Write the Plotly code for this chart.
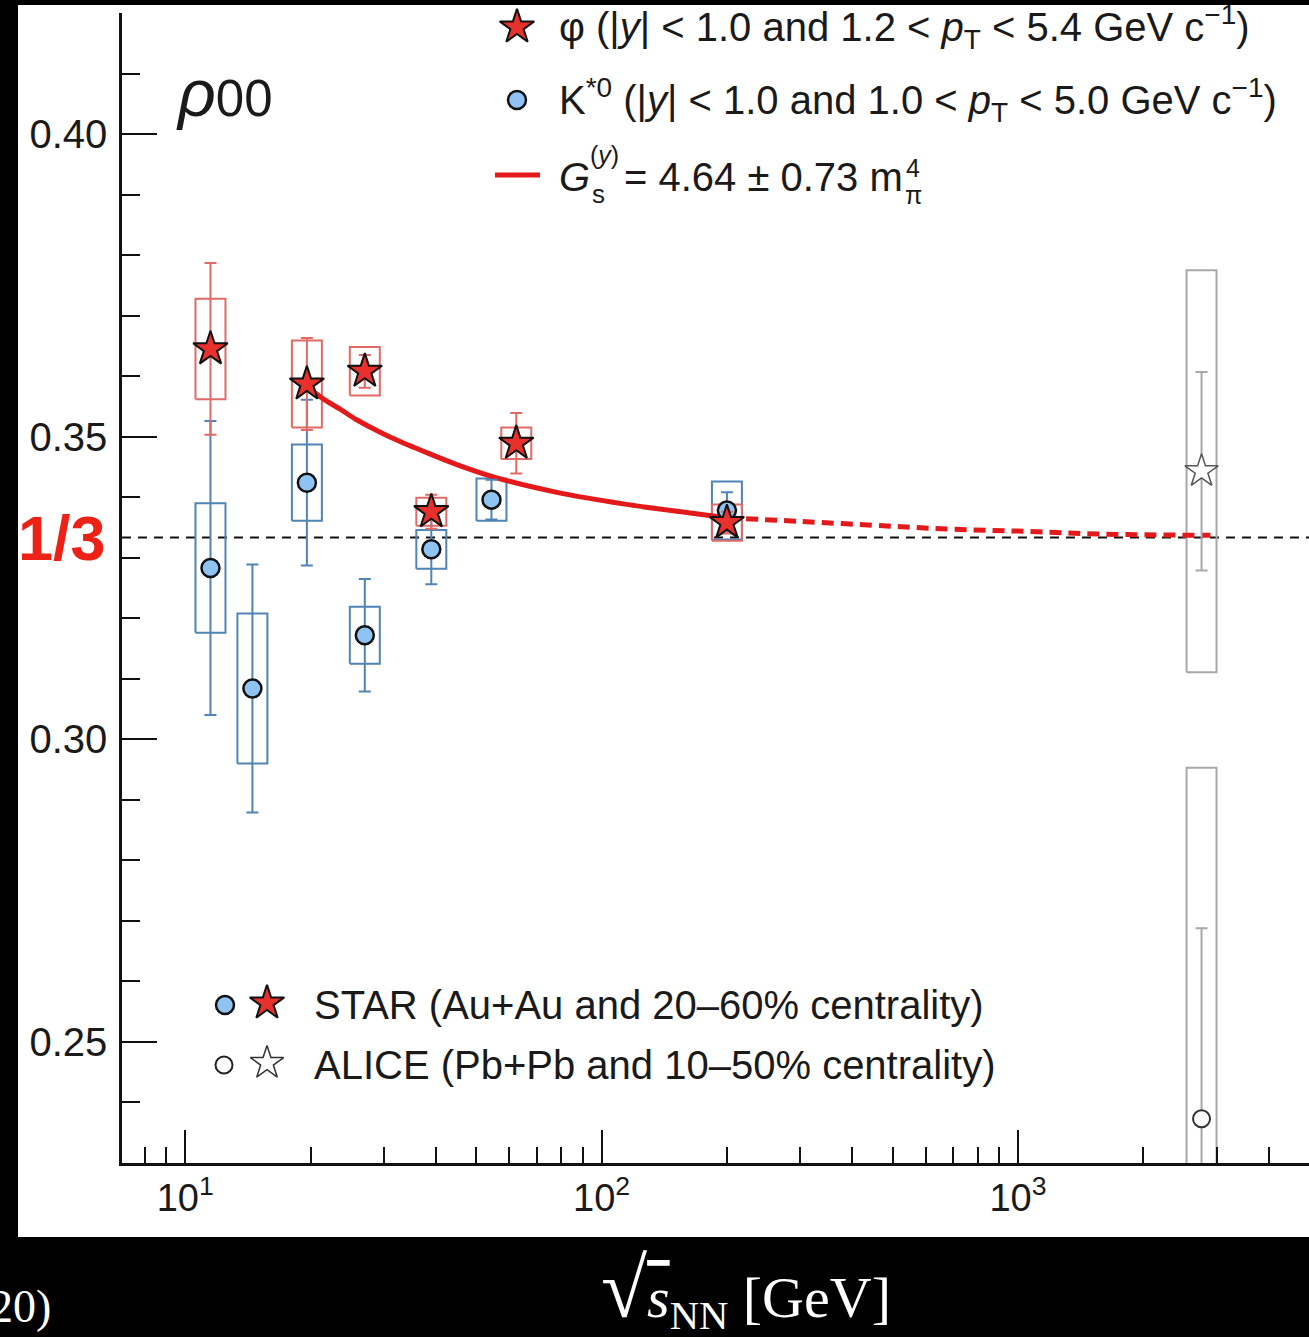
import plotly.graph_objects as go

# ---------------- data ----------------
# STAR phi mesons
PHI_E = [11.5, 19.6, 27.0, 39.0, 62.4, 200.0]
PHI_RHO = [0.3645, 0.3587, 0.3608, 0.3376, 0.3489, 0.3358]
PHI_STAT = [0.0142, 0.0076, 0.0027, 0.0028, 0.0050, 0.0018]
PHI_SYS = [0.0083, 0.0072, 0.0040, 0.0023, 0.0026, 0.0030]

# STAR K*0 mesons
K_E = [11.5, 14.5, 19.6, 27.0, 39.0, 54.4, 200.0]
K_RHO = [0.3283, 0.3084, 0.3424, 0.3172, 0.3314, 0.3396, 0.3378]
K_STAT = [0.0243, 0.0205, 0.0137, 0.0093, 0.0058, 0.0033, 0.0030]
K_SYS = [0.0107, 0.0124, 0.0063, 0.0047, 0.0032, 0.0035, 0.0048]

# ALICE (Pb+Pb 2.76 TeV)
ALICE_E = [2760.0]
ALICE_PHI_RHO = [0.3443]
ALICE_PHI_STAT = [0.0164]
ALICE_PHI_SYS = [0.0332]
ALICE_K_RHO = [0.2373]
ALICE_K_STAT = [0.0315]
ALICE_K_SYS = [0.058]

# phi-field model curve (solid part) and its extrapolation (dotted part)
FIT_E = [19.6, 21.5, 23.6, 25.8, 28.3, 31.1, 37.3, 44.9, 56.0, 78.1, 112.8, 163.1, 200.0]
FIT_RHO = [0.3583, 0.3562, 0.3545, 0.3528, 0.3513, 0.3499, 0.3476, 0.3454, 0.3432,
           0.3408, 0.3389, 0.3374, 0.3366]
FIT_EXT_E = [200.0, 300.0, 500.0, 700.0, 1000.0, 1600.0, 2900.0]
FIT_EXT_RHO = [0.3366, 0.3360, 0.3352, 0.3347, 0.3344, 0.3339, 0.3337]

RHO_ISO = 1.0 / 3.0

X_TICKS = [10, 100, 1000]
X_TICK_TEXT = ["10<sup>1</sup>", "10<sup>2</sup>", "10<sup>3</sup>"]
X_MINOR = [8, 9, 20, 30, 40, 50, 60, 70, 80, 90, 200, 300, 400, 500, 600, 700, 800, 900,
           2000, 3000, 4000]
Y_TICKS = [0.25, 0.30, 0.35, 0.40]
Y_TICK_TEXT = ["0.25", "0.30", "0.35", "0.40"]

# ---------------- styles ----------------
W, H = 1309, 1337
L, R, T, B = 122, 1309, 13, 1163          # plot-area edges in pixels
FONT = "Liberation Sans, Arial, Helvetica, sans-serif"
SERIF = "Liberation Serif, Times New Roman, serif"
TXT = "#1a1a1a"
RED_FILL = "#e8302c"
RED_LINE = "#e06a66"
FIT_RED = "#e3191b"
K_FILL = "#8fc3f1"
K_LINE = "#4f84b4"
GRAY = "#a8a8a8"
BOX_HALF_DEX = 0.036


def px_x(px):
    return (px - L) / (R - L)


def px_y(py):
    return (B - py) / (B - T)


def box_path(E, rho, sys):
    xs, ys = [], []
    for e, r, s in zip(E, rho, sys):
        x0, x1 = e * 10 ** -BOX_HALF_DEX, e * 10 ** BOX_HALF_DEX
        xs += [x0, x1, x1, x0, x0, None]
        ys += [r - s, r - s, r + s, r + s, r - s, None]
    return xs, ys


fig = go.Figure()

# systematic boxes
for E, rho, sys, col, w in [
    (K_E, K_RHO, K_SYS, K_LINE, 2),
    (PHI_E, PHI_RHO, PHI_SYS, RED_LINE, 2),
    (ALICE_E, ALICE_PHI_RHO, ALICE_PHI_SYS, GRAY, 2),
    (ALICE_E, ALICE_K_RHO, ALICE_K_SYS, GRAY, 2),
]:
    bx, by = box_path(E, rho, sys)
    fig.add_trace(go.Scatter(x=bx, y=by, mode="lines", line=dict(color=col, width=w),
                             hoverinfo="skip", showlegend=False))

# model curve
fig.add_trace(go.Scatter(x=FIT_E, y=FIT_RHO, mode="lines", line_shape="spline",
                         line=dict(color=FIT_RED, width=5), showlegend=False))
fig.add_trace(go.Scatter(x=FIT_EXT_E, y=FIT_EXT_RHO, mode="lines", line_shape="spline",
                         line=dict(color=FIT_RED, width=5, dash="12px,7px"), showlegend=False))

# K*0 points
fig.add_trace(go.Scatter(
    x=K_E, y=K_RHO, mode="markers",
    error_y=dict(type="data", array=K_STAT, color=K_LINE, thickness=2, width=6),
    marker=dict(symbol="circle", size=18, color=K_FILL, line=dict(color="#111", width=2.5)),
    showlegend=False))
# ALICE points
fig.add_trace(go.Scatter(
    x=ALICE_E, y=ALICE_K_RHO, mode="markers",
    error_y=dict(type="data", array=ALICE_K_STAT, color=GRAY, thickness=2, width=6),
    marker=dict(symbol="circle", size=17, color="white", line=dict(color="#333", width=2)),
    showlegend=False))
fig.add_trace(go.Scatter(
    x=ALICE_E, y=ALICE_PHI_RHO, mode="markers",
    error_y=dict(type="data", array=ALICE_PHI_STAT, color=GRAY, thickness=2, width=6),
    marker=dict(symbol="star", size=25, color="white", line=dict(color="#555", width=1.5)),
    showlegend=False))
# phi points
fig.add_trace(go.Scatter(
    x=PHI_E, y=PHI_RHO, mode="markers",
    error_y=dict(type="data", array=PHI_STAT, color=RED_LINE, thickness=2, width=6),
    marker=dict(symbol="star", size=26, color=RED_FILL, line=dict(color="#111", width=2)),
    showlegend=False))

# ---------------- legend keys (layout positions in plot pixels) ----------------
KEY_MARKERS = [
    # x, y, symbol, size, fill, line colour, line width
    (517, 27, "star", 26, RED_FILL, "#111", 2),
    (517, 100, "circle", 18, K_FILL, "#111", 2.5),
    (225, 1005, "circle", 18, K_FILL, "#111", 2.5),
    (267, 1003, "star", 26, RED_FILL, "#111", 2),
    (224, 1065, "circle", 17, "white", "#222", 2),
    (267, 1063, "star", 25, "white", "#333", 1.5),
]
for kx, ky, sym, sz, fc, lc, lw in KEY_MARKERS:
    fig.add_trace(go.Scatter(x=[kx], y=[ky], xaxis="x2", yaxis="y2", mode="markers",
                             marker=dict(symbol=sym, size=sz, color=fc, line=dict(color=lc, width=lw)),
                             showlegend=False, hoverinfo="skip", cliponaxis=False))
fig.add_trace(go.Scatter(x=[495, 540], y=[175, 175], xaxis="x2", yaxis="y2", mode="lines",
                         line=dict(color=FIT_RED, width=5), showlegend=False, hoverinfo="skip"))

# ---------------- shapes ----------------
shapes = [
    dict(type="rect", xref="paper", yref="paper", x0=px_x(18), x1=px_x(1320),
         y0=px_y(1237), y1=px_y(5), fillcolor="white", line=dict(width=0), layer="below"),
    dict(type="line", xref="paper", yref="y", x0=0, x1=1, y0=RHO_ISO, y1=RHO_ISO,
         line=dict(color="#111", width=2, dash="9px,7px"), layer="below"),
]

# ---------------- annotations ----------------
ann = []


def add_text(text, x, y, size, color=TXT, xanchor="left", yanchor="middle", family=FONT, yref="paper", yval=None):
    ann.append(dict(text=text, x=px_x(x), y=(px_y(y) if yval is None else yval), xref="paper",
                    yref=yref, xanchor=xanchor, yanchor=yanchor, showarrow=False,
                    font=dict(size=size, color=color, family=family)))


add_text("φ (|<i>y</i>| &lt; 1.0 and 1.2 &lt; <i>p</i><sub>T</sub> &lt; 5.4 GeV c<sup>−1</sup>)", 557, 27, 40)
add_text("K<sup>*0</sup> (|<i>y</i>| &lt; 1.0 and 1.0 &lt; <i>p</i><sub>T</sub> &lt; 5.0 GeV c<sup>−1</sup>)", 557, 100, 40)
add_text("<i>G</i>", 557, 177, 40)
add_text("(<i>y</i>)", 588, 155, 25)
add_text("s", 590, 194, 26)
add_text("= 4.64 ± 0.73 m", 622, 177, 40)
add_text("4", 904, 168, 25)
add_text("π", 903, 195, 25)
add_text("STAR (Au+Au and 20–60% centrality)", 312, 1005, 40)
add_text("ALICE (Pb+Pb and 10–50% centrality)", 312, 1065, 40)
add_text("<span style='font-size:66px'><i>ρ</i></span>00", 174, 93, 51)
add_text("<b>1/3</b>", 108, 0, 63, color="#ec2216", xanchor="right", yref="y", yval=RHO_ISO)
add_text("<span style='font-size:84px'>√</span><span style='text-decoration:overline'><i>s</i></span>"
         "<sub>NN</sub> [GeV]", 746, 1290, 58, color="white", xanchor="center", family=SERIF)
add_text("20)", 53, 1307, 46, color="white", xanchor="right", family=SERIF)

fig.update_layout(
    width=W, height=H,
    margin=dict(l=L, r=W - R, t=T, b=H - B, pad=0),
    paper_bgcolor="black",
    plot_bgcolor="rgba(0,0,0,0)",
    showlegend=False,
    shapes=shapes,
    annotations=ann,
    xaxis=dict(type="log", range=[0.8482, 3.699], showline=True, linecolor="#111", linewidth=2.5,
               ticks="inside", ticklen=33, tickwidth=2, tickcolor="#111",
               tickvals=X_TICKS, ticktext=X_TICK_TEXT, tickfont=dict(size=38, family=FONT, color=TXT),
               ticklabelstandoff=0,
               minor=dict(tickvals=X_MINOR, ticks="inside", ticklen=16, tickwidth=2, tickcolor="#111",
                          showgrid=False),
               showgrid=False, zeroline=False),
    yaxis=dict(range=[0.23, 0.42], showline=True, linecolor="#111", linewidth=2.5,
               ticks="inside", ticklen=35, tickwidth=2, tickcolor="#111",
               tickvals=Y_TICKS, ticktext=Y_TICK_TEXT, tickfont=dict(size=40, family=FONT, color=TXT),
               ticklabelstandoff=4,
               minor=dict(dtick=0.01, tick0=0, ticks="inside", ticklen=18, tickwidth=2, tickcolor="#111",
                          showgrid=False),
               showgrid=False, zeroline=False),
    xaxis2=dict(range=[L, R], overlaying="x", anchor="y2", visible=False),
    yaxis2=dict(range=[B, T], overlaying="y", anchor="x2", visible=False),
)

fig.write_html("out.html", config={"displayModeBar": False},
               post_script="document.body.style.margin='0';document.body.style.overflow='hidden';")
